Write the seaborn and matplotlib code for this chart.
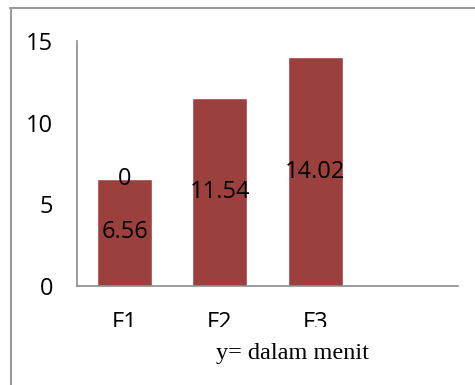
import matplotlib
matplotlib.use("Agg")
import matplotlib.pyplot as plt
import seaborn as sns
import pandas as pd
from matplotlib.lines import Line2D
from matplotlib.patches import Rectangle

# Data
categories = ['F1', 'F2', 'F3', '']
values = [6.56, 11.54, 14.02, 0]
value_labels = ['6.56', '11.54', '14.02']
top_label = '0'   # empty series stacked on F1

df = pd.DataFrame({'cat': categories, 'val': values})

sns.set_style('white')
plt.rcParams['font.family'] = ['Open Sans', 'DejaVu Sans']
plt.rcParams['text.color'] = 'black'
plt.rcParams['xtick.color'] = 'black'
plt.rcParams['ytick.color'] = 'black'

fig = plt.figure(figsize=(4.75, 3.85), dpi=100)
ax = fig.add_axes([77 / 475, 1 - 286 / 385, (458 - 77) / 475, (286 - 41) / 385])

sns.barplot(data=df, x='cat', y='val', color='#9c403e', saturation=1,
            width=0.58, ax=ax)

ax.set_ylim(0, 15)
ax.set_xlim(-0.5, 3.5)
ax.set_yticks([0, 5, 10, 15])
ax.set_xlabel('')
ax.set_ylabel('')
ax.tick_params(axis='y', length=0, pad=17, labelsize=17)
ax.tick_params(axis='x', length=0, pad=18, labelsize=17)
ax.set_xticks([0, 1, 2])
ax.set_xticklabels(categories[:3])

for s in ['top', 'right']:
    ax.spines[s].set_visible(False)
for s in ['left', 'bottom']:
    ax.spines[s].set_color('#8c8c8c')
    ax.spines[s].set_linewidth(1.2)

# labels inside bars
for i, lab in enumerate(value_labels):
    ax.text(i, values[i] / 2, lab, ha='center', va='center', fontsize=17)
ax.text(0, values[0], top_label, ha='center', va='center', fontsize=17)

# clip bottom of the category labels like the reference
fig.add_artist(Rectangle((0.05, 1 - 340 / 385), 0.9, 13 / 385,
                         transform=fig.transFigure, facecolor='white',
                         edgecolor='none', zorder=5))

fig.text(293 / 475, 1 - 353 / 385, 'y= dalam menit', ha='center', va='center',
         fontsize=17.5, family='Liberation Serif')

# chart border (left and top only visible)
fig.add_artist(Line2D([10.5 / 475, 10.5 / 475], [0, 1 - 8 / 385],
                      transform=fig.transFigure, color='#999999', lw=1.5))
fig.add_artist(Line2D([10 / 475, 1], [1 - 8 / 385, 1 - 8 / 385],
                      transform=fig.transFigure, color='#999999', lw=1.5))

fig.savefig('out.png', dpi=100)
